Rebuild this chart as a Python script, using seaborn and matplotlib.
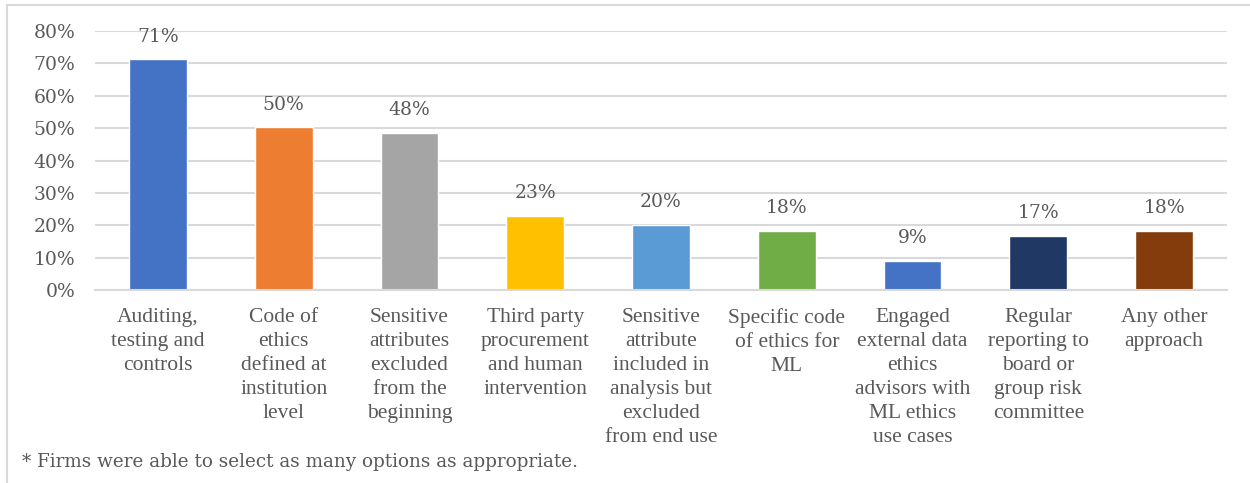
import matplotlib
matplotlib.use("Agg")
import matplotlib.pyplot as plt
import seaborn as sns
import pandas as pd
from matplotlib.lines import Line2D

categories = [
    "Auditing,\ntesting and\ncontrols",
    "Code of\nethics\ndefined at\ninstitution\nlevel",
    "Sensitive\nattributes\nexcluded\nfrom the\nbeginning",
    "Third party\nprocurement\nand human\nintervention",
    "Sensitive\nattribute\nincluded in\nanalysis but\nexcluded\nfrom end use",
    "Specific code\nof ethics for\nML",
    "Engaged\nexternal data\nethics\nadvisors with\nML ethics\nuse cases",
    "Regular\nreporting to\nboard or\ngroup risk\ncommittee",
    "Any other\napproach",
]
values = [71.2, 50.2, 48.5, 23.0, 20.0, 18.2, 9.0, 16.8, 18.2]
value_labels = ["71%", "50%", "48%", "23%", "20%", "18%", "9%", "17%", "18%"]
colors = ["#4472C4", "#ED7D31", "#A5A5A5", "#FFC000", "#5B9BD5",
          "#70AD47", "#4472C4", "#203864", "#843C0C"]
yticks = [0, 10, 20, 30, 40, 50, 60, 70, 80]
footnote = "* Firms were able to select as many options as appropriate."

sns.set_theme(style="white")
plt.rcParams["font.family"] = ["DejaVu Serif"]

df = pd.DataFrame({"cat": categories, "val": values})

fig = plt.figure(figsize=(12.5, 4.83), dpi=100)
ax = fig.add_axes([0.076, 0.3996, 0.9056, 0.5362])

sns.barplot(data=df, x="cat", y="val", hue="cat", palette=colors,
            legend=False, width=0.46, ax=ax, saturation=1)

ax.set_ylim(0, 80)
ax.set_yticks(yticks)
ax.set_yticklabels([f"{t}%" for t in yticks], fontsize=13.5, color="#595959")
ax.yaxis.grid(True, color="#D9D9D9", linewidth=1.5)
ax.set_axisbelow(True)
for s in ["top", "right", "left"]:
    ax.spines[s].set_visible(False)
ax.spines["bottom"].set_color("#D9D9D9")
ax.spines["bottom"].set_linewidth(1.5)
ax.tick_params(axis="y", length=0, pad=14)
ax.set_xlabel("")
ax.set_ylabel("")
ax.set_xticks(range(len(categories)))
ax.set_xticklabels(categories, fontsize=15.5, color="#595959",
                   family="Liberation Serif", linespacing=1.35)
ax.tick_params(axis="x", length=0, pad=13)

for i, patch in enumerate(ax.patches):
    if patch.get_height() <= 0:
        continue
    ax.annotate(value_labels[i], (patch.get_x() + patch.get_width() / 2, patch.get_height()),
                xytext=(0, 10), textcoords="offset points", ha="center", va="bottom",
                fontsize=13.5, color="#595959")

fig.text(0.018, 0.0435, footnote, fontsize=13.2, color="#595959",
         family="DejaVu Serif", ha="left", va="center")

fig.add_artist(Line2D([0.0056, 0.0056], [0.99, 0.0], transform=fig.transFigure,
                      color="#D9D9D9", linewidth=1.5))
fig.add_artist(Line2D([0.0056, 1.0], [0.99, 0.99], transform=fig.transFigure,
                      color="#D9D9D9", linewidth=1.5))

fig.savefig("out.png", dpi=100, facecolor="white")
